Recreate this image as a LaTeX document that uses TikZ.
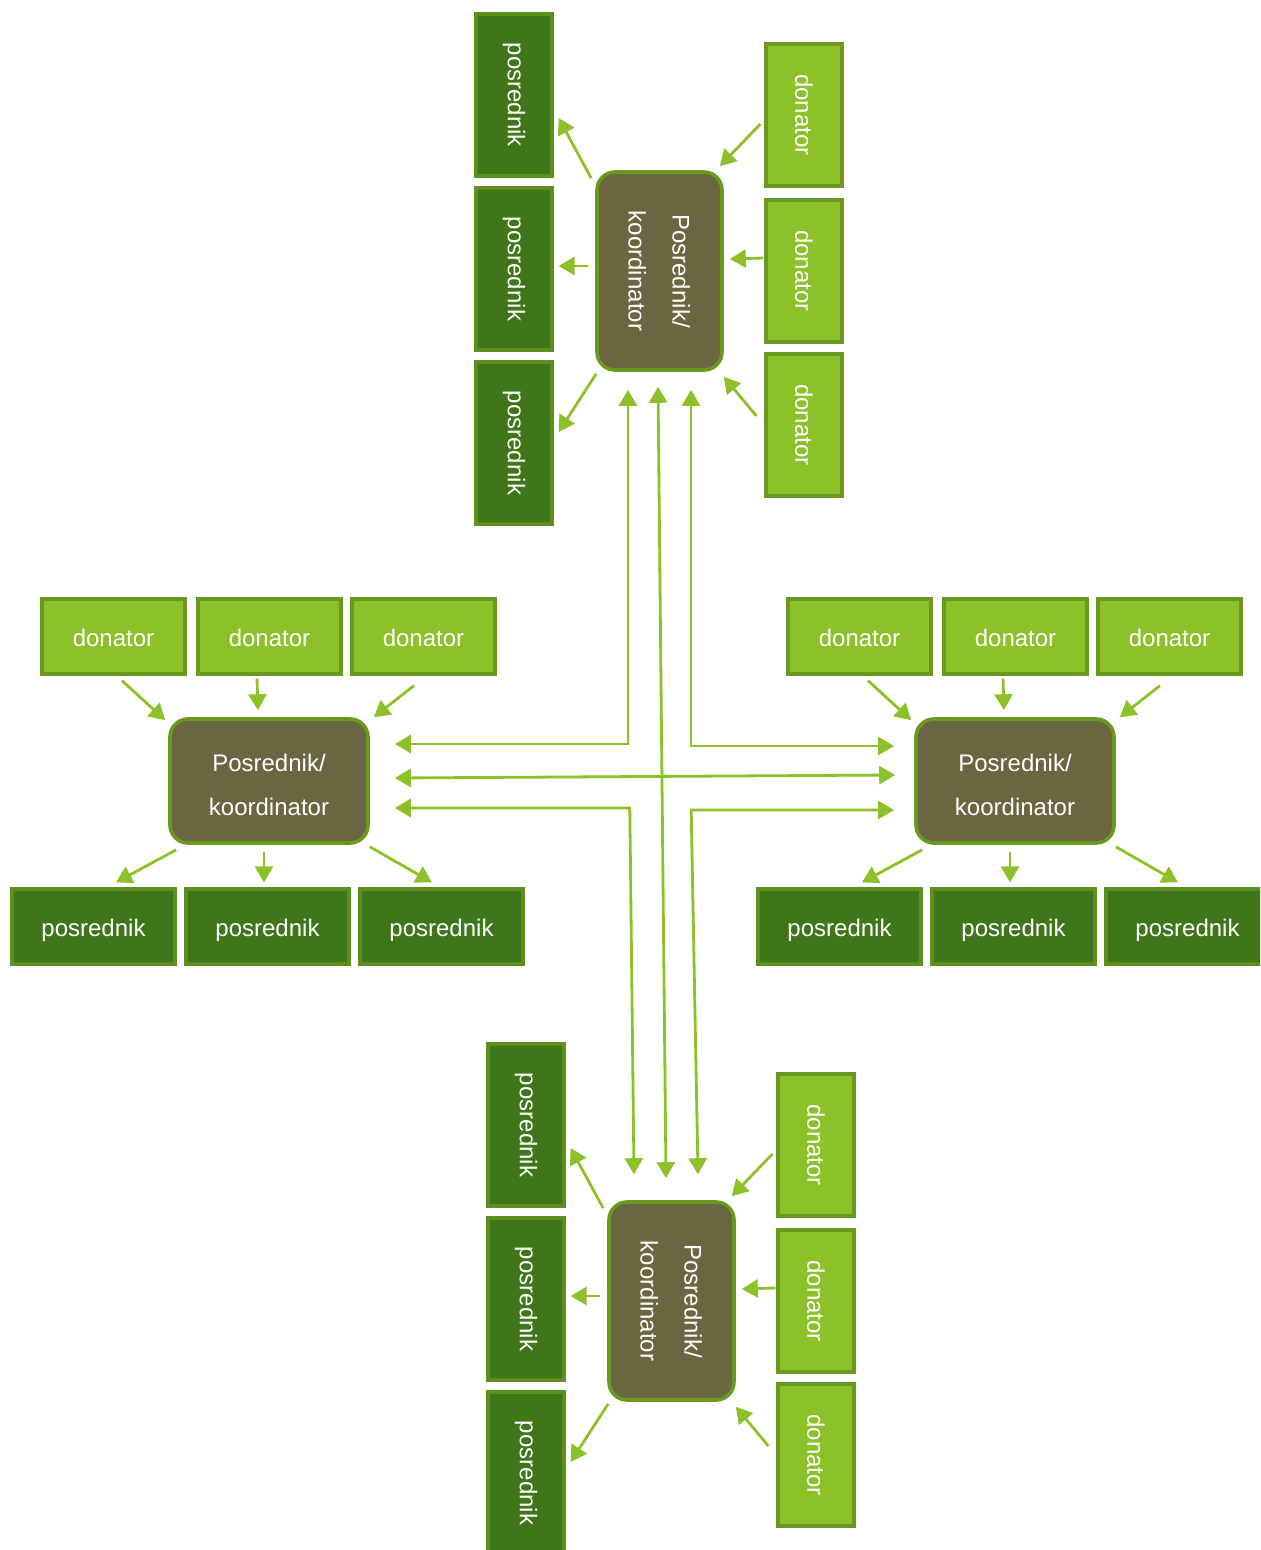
\documentclass[tikz,border=0pt]{standalone}
\usepackage{fontspec}
\setmainfont{Liberation Sans}
\usepackage{graphicx}
\usetikzlibrary{arrows.meta,calc}
\definecolor{lgfill}{HTML}{8DC12A}
\definecolor{lgline}{HTML}{6A991F}
\definecolor{dgfill}{HTML}{3F761A}
\definecolor{dgline}{HTML}{5E8F1E}
\definecolor{kfill}{HTML}{6B6541}
\definecolor{kline}{HTML}{6A9A1D}
\definecolor{arrc}{HTML}{8DC12A}
\tikzset{
 base/.style={draw, line width=1.6pt, inner sep=0pt, text=white, font=\fontsize{12}{14}\selectfont},
 donbox/.style={base, fill=lgfill, draw=lgline},
 posbox/.style={base, fill=dgfill, draw=dgline},
 korbox/.style={base, fill=kfill, draw=kline, line width=1.8pt, rounded corners=9pt},
 vdon/.style={donbox, minimum width=38pt, minimum height=71pt},
 vpos/.style={posbox, minimum width=38pt, minimum height=81pt},
 hdon/.style={donbox, minimum width=71.5pt, minimum height=37.5pt},
 hpos/.style={posbox, minimum width=81.5pt, minimum height=37.5pt},
 vkor/.style={korbox, minimum width=62.5pt, minimum height=99pt},
 hkor/.style={korbox, minimum width=99pt, minimum height=62pt},
 arr/.style={draw=arrc, line width=1.4pt, -{Triangle[length=8pt,width=9pt]}},
 darr/.style={draw=arrc, line width=1.4pt, {Triangle[length=8pt,width=9pt]}-{Triangle[length=8pt,width=9pt]}},
}
\newcommand\kortxt{\fontsize{12}{22}\selectfont\begin{tabular}{@{}c@{}}Posrednik/\\koordinator\end{tabular}}
\newcommand\lowr[2]{\raisebox{-#1}[\height][\depth]{#2}}
\newcommand\vclust[3]{%
 \begin{scope}[shift={(#2,#3)}]
  \node[vpos] (#1p1) at (514,95) {\rotatebox{-90}{posrednik}};
  \node[vpos] (#1p2) at (514,269) {\rotatebox{-90}{posrednik}};
  \node[vpos] (#1p3) at (514,443) {\rotatebox{-90}{posrednik}};
  \node[vdon] (#1d1) at (804,115) {\rotatebox{-90}{donator}};
  \node[vdon] (#1d2) at (804,271) {\rotatebox{-90}{donator}};
  \node[vdon] (#1d3) at (804,425) {\rotatebox{-90}{donator}};
  \node[vkor] (#1k) at (659.5,271) {\rotatebox{-90}{\kortxt}};
 \end{scope}
 \draw[arr] ([shift={(-4,8)}]#1k.north west) -- ([shift={(5,23)}]#1p1.east);
 \draw[arr] ([shift={(-7,-5)}]#1k.west) -- ([shift={(5,-3)}]#1p2.east);
 \draw[arr] ([shift={(1,2)}]#1k.south west) -- ([shift={(5,-11)}]#1p3.east);
 \draw[arr] ([shift={(-4,9)}]#1d1.west) -- ([shift={(-4,-4)}]#1k.north east);
 \draw[arr] ([shift={(-1,-13)}]#1d2.west) -- ([shift={(6,-12)}]#1k.east);
 \draw[arr] ([shift={(-8,-9)}]#1d3.west) -- ([shift={(0,5)}]#1k.south east);
}
\newcommand\hclust[2]{%
 \begin{scope}[shift={(#2,0)}]
  \node[hdon] (#1d1) at (113.5,636.5) {\lowr{0.7pt}{donator}};
  \node[hdon] (#1d2) at (269.5,636.5) {\lowr{0.7pt}{donator}};
  \node[hdon] (#1d3) at (423.5,636.5) {\lowr{0.7pt}{donator}};
  \node[hkor] (#1k) at (269,781) {\lowr{1.7pt}{\kortxt}};
  \node[hpos] (#1p1) at (93.5,926.5) {\lowr{1.8pt}{posrednik}};
  \node[hpos] (#1p2) at (267.5,926.5) {\lowr{1.8pt}{posrednik}};
  \node[hpos] (#1p3) at (441.5,926.5) {\lowr{1.8pt}{posrednik}};
 \end{scope}
 \draw[arr] ([shift={(8.5,5)}]#1d1.south) -- ([shift={(-3,3)}]#1k.north west);
 \draw[arr] ([shift={(-12.5,3)}]#1d2.south) -- ([shift={(-11,-7)}]#1k.north);
 \draw[arr] ([shift={(-9.5,10)}]#1d3.south) -- ([shift={(4,0)}]#1k.north east);
 \draw[arr] ([shift={(8,5)}]#1k.south west) -- ([shift={(22.5,-5)}]#1p1.north);
 \draw[arr] ([shift={(-5,7)}]#1k.south) -- ([shift={(-3.5,-5)}]#1p2.north);
 \draw[arr] ([shift={(0,2)}]#1k.south east) -- ([shift={(-9.5,-5)}]#1p3.north);
}
\begin{document}
\begin{tikzpicture}[x=0.5pt,y=-0.5pt]
\useasboundingbox (0,0) rectangle (1260,1550);
\fill[white] (0,0) rectangle (1260,1550);
\clip (0,0) rectangle (1260,1550);
\vclust{t}{0}{0}
\vclust{b}{12}{1030}
\hclust{l}{0}
\hclust{r}{746}
\draw[darr] ([shift={(-31.5,18)}]tk.south) |- ([shift={(25,-37)}]lk.east);
\draw[darr] ([shift={(31.5,18)}]tk.south) |- ([shift={(-20,-35)}]rk.west);
\draw[darr] ([shift={(-1.5,15)}]tk.south) -- ([shift={(-5.5,-22)}]bk.north);
\draw[darr] ([shift={(25,-3)}]lk.east) -- ([shift={(-19,-6)}]rk.west);
\draw[darr] ([shift={(25,27)}]lk.east) -- ++(235,0) -- ([shift={(-37.5,-26)}]bk.north);
\draw[darr] ([shift={(-20,29)}]rk.west) -- ++(-203,0) -- ([shift={(26.5,-26)}]bk.north);
\end{tikzpicture}
\end{document}
